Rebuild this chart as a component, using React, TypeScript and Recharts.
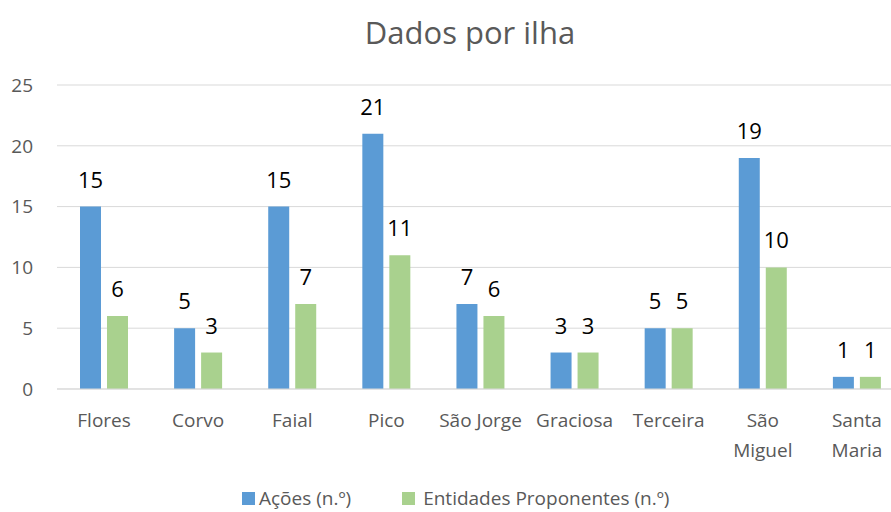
import { BarChart, Bar, XAxis, YAxis, CartesianGrid, LabelList } from 'recharts';

const ISLANDS = ['Flores', 'Corvo', 'Faial', 'Pico', 'São Jorge', 'Graciosa', 'Terceira', 'São Miguel', 'Santa Maria'];
const TICK_LINES = [['Flores'], ['Corvo'], ['Faial'], ['Pico'], ['São Jorge'], ['Graciosa'], ['Terceira'], ['São', 'Miguel'], ['Santa', 'Maria']];
const ACOES = [15, 5, 15, 21, 7, 3, 5, 19, 1];
const ENTIDADES = [6, 3, 7, 11, 6, 3, 5, 10, 1];
const Y_TICKS = [0, 5, 10, 15, 20, 25];

const BLUE = '#5B9BD5';
const GREEN = '#A9D18E';
const GRAY = '#595959';
const FONT = '"Open Sans", sans-serif';

const data = ISLANDS.map((name, i) => ({ name, acoes: ACOES[i], entidades: ENTIDADES[i] }));

function IslandTick({ x, y, index }: any) {
  const lines = TICK_LINES[index] || [];
  return (
    <text x={x} y={y} textAnchor="middle" fill={GRAY} fontSize={19} fontFamily={FONT}>
      {lines.map((l, i) => (
        <tspan key={i} x={x} dy={i === 0 ? 38 : 30}>{l}</tspan>
      ))}
    </text>
  );
}

export default function App() {
  return (
    <div style={{ position: 'absolute', left: 0, top: 0, width: 891, height: 512, overflow: 'hidden', background: '#fff', fontFamily: FONT }}>
      <div style={{ position: 'absolute', left: 0, width: 940, top: 12, textAlign: 'center', fontSize: 31, color: GRAY, lineHeight: '40px' }}>
        Dados por ilha
      </div>
      <BarChart
        width={920}
        height={512}
        data={data}
        margin={{ top: 85, right: 16, bottom: 83, left: 0 }}
        barSize={21}
        barGap={6}
      >
        <CartesianGrid vertical={false} stroke="#d9d9d9" />
        <XAxis
          dataKey="name"
          interval={0}
          height={40}
          tickSize={0}
          tickMargin={0}
          axisLine={{ stroke: '#d9d9d9' }}
          tick={<IslandTick />}
        />
        <YAxis
          width={57}
          domain={[0, 25]}
          ticks={Y_TICKS}
          axisLine={false}
          tickLine={false}
          tickSize={0}
          tickMargin={24}
          tick={{ fill: GRAY, fontSize: 19, fontFamily: FONT }}
        />
        <Bar dataKey="acoes" fill={BLUE} isAnimationActive={false}>
          <LabelList dataKey="acoes" position="top" offset={19} fill="#000" fontSize={22} fontFamily={FONT} />
        </Bar>
        <Bar dataKey="entidades" fill={GREEN} isAnimationActive={false}>
          <LabelList dataKey="entidades" position="top" offset={19} fill="#000" fontSize={22} fontFamily={FONT} />
        </Bar>
      </BarChart>
      <div style={{ position: 'absolute', left: 242, top: 485, display: 'flex', alignItems: 'center', fontSize: 19, color: GRAY, lineHeight: '26px' }}>
        <span style={{ width: 13, height: 13, background: BLUE, display: 'inline-block', marginRight: 4 }} />
        <span>Ações (n.º)</span>
        <span style={{ width: 13, height: 13, background: GREEN, display: 'inline-block', marginLeft: 51, marginRight: 8 }} />
        <span>Entidades Proponentes (n.º)</span>
      </div>
    </div>
  );
}
